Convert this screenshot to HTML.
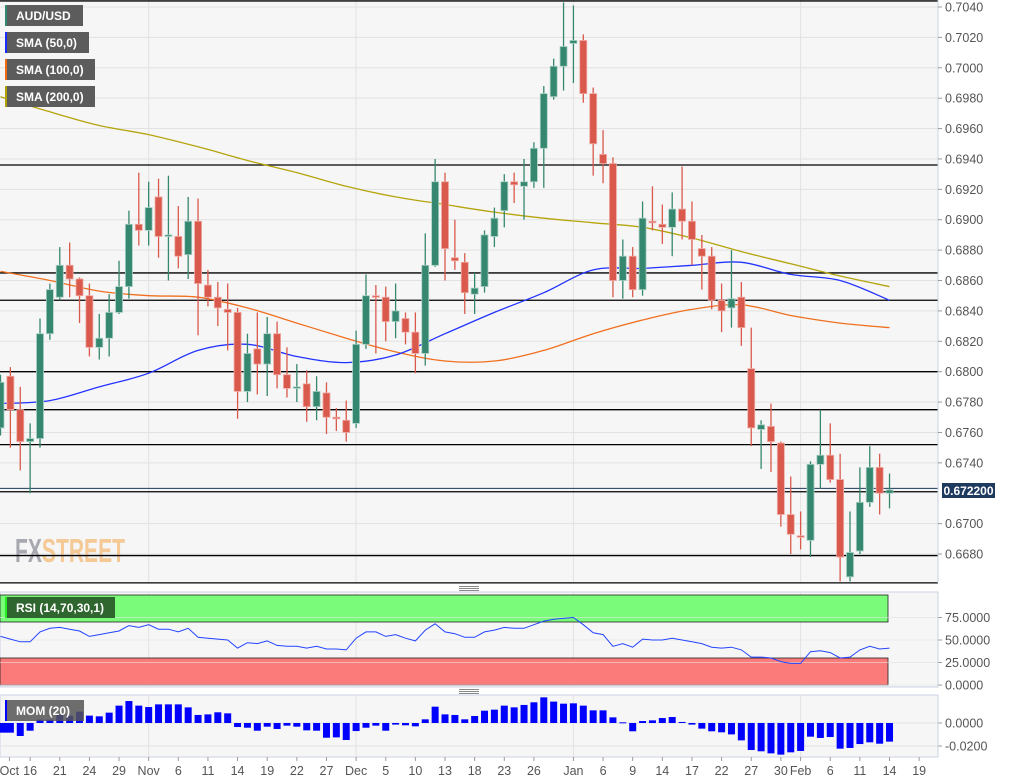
<!DOCTYPE html>
<html><head><meta charset="utf-8">
<style>
html,body{margin:0;padding:0;background:#fff;width:1015px;height:782px;overflow:hidden;font-family:"Liberation Sans",sans-serif;}
svg text{font-family:"Liberation Sans",sans-serif;}
</style></head>
<body>
<svg id="chart" width="1015" height="782" xmlns="http://www.w3.org/2000/svg">
  <rect x="0" y="0" width="938" height="583" fill="#f6f6f6"/>
  <g id="grid"></g>
  <text x="15" y="562" font-size="33" font-weight="bold" fill="#9a9ba3" fill-opacity="0.85" textLength="110" lengthAdjust="spacingAndGlyphs">FX<tspan fill="#f3c184">STREET</tspan></text>
  <g id="hlines"></g>
  <g id="smas"></g>
  <g id="candles"></g>
  <line x1="938" y1="0" x2="938" y2="583" stroke="#c9d0e0"/>
  <g id="paxis"></g>
  <rect x="942" y="483" width="53" height="15" fill="#1f3a5f"/>
  <text x="968.5" y="495" font-size="12" font-weight="bold" fill="#fff" text-anchor="middle">0.672200</text>

  <g>
    <rect x="5" y="5" width="78" height="21" fill="#5c5c5c"/><rect x="5" y="5" width="2" height="21" fill="#35876f"/>
    <text x="16" y="20" font-size="12" font-weight="bold" fill="#fff">AUD/USD</text>
    <rect x="5" y="32" width="84" height="21" fill="#5c5c5c"/><rect x="5" y="32" width="2" height="21" fill="#1a2cff"/>
    <text x="16" y="47" font-size="12" font-weight="bold" fill="#fff">SMA (50,0)</text>
    <rect x="5" y="59" width="90" height="21" fill="#5c5c5c"/><rect x="5" y="59" width="2" height="21" fill="#f06a12"/>
    <text x="16" y="74" font-size="12" font-weight="bold" fill="#fff">SMA (100,0)</text>
    <rect x="5" y="86" width="90" height="21" fill="#5c5c5c"/><rect x="5" y="86" width="2" height="21" fill="#b0a000"/>
    <text x="16" y="101" font-size="12" font-weight="bold" fill="#fff">SMA (200,0)</text>
  </g>

  <g><rect x="459" y="586" width="20" height="1" fill="#888"/><rect x="459" y="588" width="20" height="1" fill="#888"/><rect x="459" y="590" width="20" height="1" fill="#888"/></g>
  <rect x="0" y="592" width="938" height="95" fill="#f6f6f6" stroke="#ccd3e3"/>
  <g id="rsig"></g>
  <g id="rsi"></g>
  <rect x="5" y="597" width="110" height="21" fill="#2f662f"/><rect x="5" y="597" width="2" height="21" fill="#22ee22"/>
  <text x="16" y="612" font-size="12" font-weight="bold" fill="#fff">RSI (14,70,30,1)</text>

  <g><rect x="459" y="689" width="20" height="1" fill="#888"/><rect x="459" y="691" width="20" height="1" fill="#888"/><rect x="459" y="693" width="20" height="1" fill="#888"/></g>
  <rect x="0" y="695" width="938" height="62" fill="#f6f6f6" stroke="#ccd3e3"/>
  <g id="momg"></g>
  <g id="mom"></g>
  <rect x="5" y="700" width="79" height="21" fill="#555" fill-opacity="0.85"/><rect x="5" y="700" width="2" height="21" fill="#0000ff"/>
  <text x="16" y="715" font-size="12" font-weight="bold" fill="#fff">MOM (20)</text>
  <g id="xaxis"></g>
</svg>
<script>
const opens=[0.6763,0.6797,0.6775,0.6754,0.6756,0.6825,0.6849,0.6870,0.6861,0.6850,0.6816,0.6822,0.6839,0.6856,0.6897,0.6893,0.6915,0.6889,0.6889,0.6877,0.6899,0.6857,0.6849,0.6841,0.6839,0.6787,0.6815,0.6805,0.6825,0.6798,0.6789,0.6792,0.6777,0.6786,0.6770,0.6768,0.6766,0.6818,0.6850,0.6849,0.6833,0.6835,0.6826,0.6812,0.6870,0.6925,0.6875,0.6872,0.6851,0.6856,0.6889,0.6906,0.6925,0.6922,0.6925,0.6947,0.6981,0.7001,0.7016,0.7018,0.6983,0.6943,0.6937,0.6860,0.6876,0.6854,0.6899,0.6897,0.6895,0.6907,0.6899,0.6881,0.6876,0.6847,0.6842,0.6849,0.6802,0.6762,0.6764,0.6753,0.6706,0.6692,0.6689,0.6739,0.6745,0.6729,0.6665,0.6682,0.6714,0.6737,0.6720];
const highs=[0.6798,0.6803,0.6790,0.6766,0.6835,0.6858,0.6882,0.6885,0.6862,0.6858,0.6838,0.6851,0.6873,0.6906,0.6931,0.6925,0.6927,0.6929,0.6909,0.6915,0.6914,0.6867,0.6859,0.6858,0.6842,0.6825,0.6839,0.6836,0.6833,0.6816,0.6805,0.6801,0.6797,0.6793,0.6776,0.6781,0.6827,0.6864,0.6857,0.6856,0.6858,0.6839,0.6839,0.6891,0.6940,0.6931,0.6900,0.6878,0.6865,0.6893,0.6908,0.6930,0.6931,0.6940,0.6951,0.6988,0.7006,0.7043,0.7041,0.7022,0.6987,0.6959,0.6941,0.6887,0.6882,0.6912,0.6922,0.6910,0.6918,0.6935,0.6912,0.6890,0.6882,0.6858,0.6880,0.6859,0.6829,0.6768,0.6779,0.6754,0.6731,0.6708,0.6741,0.6775,0.6766,0.6746,0.6708,0.6737,0.6751,0.6746,0.6733];
const lows=[0.6758,0.6750,0.6735,0.6720,0.6750,0.6821,0.6847,0.6849,0.6832,0.6810,0.6808,0.6810,0.6838,0.6848,0.6883,0.6883,0.6875,0.6860,0.6868,0.6861,0.6824,0.6843,0.6830,0.6814,0.6769,0.6780,0.6785,0.6784,0.6789,0.6783,0.6780,0.6767,0.6768,0.6759,0.6761,0.6754,0.6763,0.6815,0.6812,0.6820,0.6822,0.6818,0.6799,0.6804,0.6869,0.6860,0.6867,0.6838,0.6838,0.6852,0.6882,0.6895,0.6911,0.6900,0.6921,0.6921,0.6979,0.6985,0.6990,0.6977,0.6929,0.6924,0.6849,0.6848,0.6849,0.6850,0.6893,0.6884,0.6876,0.6887,0.6870,0.6854,0.6841,0.6826,0.6829,0.6817,0.6751,0.6736,0.6734,0.6698,0.6680,0.6683,0.6678,0.6723,0.6727,0.6662,0.6662,0.6680,0.6711,0.6706,0.6710];
const closes=[0.6793,0.6775,0.6754,0.6756,0.6825,0.6854,0.6870,0.6861,0.6850,0.6816,0.6822,0.6839,0.6856,0.6897,0.6893,0.6908,0.6889,0.6890,0.6876,0.6899,0.6858,0.6849,0.6842,0.6839,0.6787,0.6812,0.6805,0.6825,0.6798,0.6789,0.6790,0.6777,0.6787,0.6770,0.6769,0.6760,0.6818,0.6850,0.6849,0.6833,0.6840,0.6826,0.6812,0.6870,0.6925,0.6881,0.6873,0.6852,0.6855,0.6890,0.6901,0.6925,0.6923,0.6925,0.6947,0.6983,0.7001,0.7014,0.7018,0.6983,0.6950,0.6937,0.6860,0.6876,0.6854,0.6901,0.6898,0.6895,0.6907,0.6899,0.6887,0.6876,0.6847,0.6840,0.6848,0.6829,0.6763,0.6765,0.6754,0.6706,0.6693,0.6691,0.6739,0.6745,0.6729,0.6678,0.6681,0.6714,0.6737,0.6720,0.67222];
const smaIdx=[0,5,10,15,20,25,30,35,40,45,50,55,60,65,70,75,80,85,90];
const sma50=[0.6779,0.6781,0.6790,0.6799,0.6814,0.6818,0.6810,0.6806,0.6811,0.6825,0.6839,0.6852,0.6867,0.6868,0.6870,0.6872,0.6864,0.6860,0.6847];
const sma100=[0.6866,0.6860,0.6853,0.6850,0.6849,0.6842,0.6832,0.6822,0.6813,0.6807,0.6807,0.6814,0.6825,0.6834,0.6841,0.6844,0.6837,0.6832,0.6829];
const sma200=[0.6981,0.6971,0.6962,0.6956,0.6948,0.6939,0.6931,0.6922,0.6915,0.6910,0.6905,0.6901,0.6898,0.6895,0.6888,0.6879,0.6871,0.6863,0.6856];
const levels=[0.6936,0.6865,0.6847,0.6800,0.6775,0.6752,0.6721,0.6679,0.6661,0.7044];
const rsiVals=[54,51,48,48,59,63,64,62,60,54,56,58,60,66,64,67,62,62,59,63,53,52,51,50,41,47,46,49,44,43,43,41,43,40,40,39,52,59,59,54,56,52,49,61,68,59,57,53,53,59,61,64,63,63,67,71,73,74,75,67,58,56,43,46,42,51,50,50,52,50,48,46,42,41,42,39,31,31,30,26,24,24,37,38,36,30,31,39,43,40,41];
const momVals=[-0.0084,-0.0084,-0.0113,-0.0067,0.0029,0.0029,0.0070,0.0064,0.0099,0.0064,0.0058,0.0090,0.0151,0.0191,0.0151,0.0139,0.0162,0.0162,0.0162,0.0136,0.0070,0.0075,0.0093,0.0084,-0.0035,-0.0041,-0.0067,-0.0032,-0.0052,-0.0023,-0.0032,-0.0064,-0.0067,-0.0128,-0.0125,-0.0148,-0.0070,-0.0041,-0.0023,-0.0067,-0.0014,-0.0020,-0.0029,0.0032,0.0142,0.0075,0.0070,0.0032,0.0061,0.0107,0.0116,0.0151,0.0136,0.0157,0.0180,0.0223,0.0186,0.0168,0.0171,0.0151,0.0110,0.0110,0.0049,0.0006,-0.0072,0.0017,0.0023,0.0043,0.0052,0.0009,-0.0014,-0.0049,-0.0072,-0.0081,-0.0099,-0.0151,-0.0235,-0.0246,-0.0264,-0.0275,-0.0255,-0.0243,-0.0119,-0.0130,-0.0122,-0.0223,-0.0217,-0.0183,-0.0168,-0.0180,-0.0162];
const priceTicks=[0.7040,0.7020,0.7000,0.6980,0.6960,0.6940,0.6920,0.6900,0.6880,0.6860,0.6840,0.6820,0.6800,0.6780,0.6760,0.6740,0.6700,0.6680];
const rsiTicks=[75,50,25,0];
const momTicks=[0,-0.02];
const xLabels=["Oct","16","21","24","29","Nov","6","11","14","19","22","27","Dec","5","10","13","18","23","26","Jan","6","9","14","17","22","27","30","Feb","6","11","14","19"];
const xLabelIdx=[0.9,3,6,9,12,15,18,21,24,27,30,33,36,39,42,45,48,51,54,58,61,64,67,70,73,76,79,81,84,87,90,93];
const monthIdx=[15,36,58,81];

const NS="http://www.w3.org/2000/svg";
const X=i=>0.5+i*9.878;
const Y=p=>7+(0.7040-p)/0.0020*30.39;
const RY=v=>685-v*0.9;
const MY=v=>723-v/0.02*23;
function mk(tag,attrs,parent){const e=document.createElementNS(NS,tag);for(const k in attrs)e.setAttribute(k,attrs[k]);document.getElementById(parent).appendChild(e);return e;}
function smooth(pts){let d='M'+pts[0][0].toFixed(1)+','+pts[0][1].toFixed(1);
for(let k=0;k<pts.length-1;k++){const p0=pts[Math.max(0,k-1)],p1=pts[k],p2=pts[k+1],p3=pts[Math.min(pts.length-1,k+2)];
const c1=[p1[0]+(p2[0]-p0[0])/6,p1[1]+(p2[1]-p0[1])/6],c2=[p2[0]-(p3[0]-p1[0])/6,p2[1]-(p3[1]-p1[1])/6];
d+=' C'+c1[0].toFixed(1)+','+c1[1].toFixed(1)+' '+c2[0].toFixed(1)+','+c2[1].toFixed(1)+' '+p2[0].toFixed(1)+','+p2[1].toFixed(1);}
return d;}

priceTicks.forEach(p=>{const l=mk('line',{x1:0,x2:938,y1:Y(p),y2:Y(p),stroke:'#e2e2e2'},'grid');

});
monthIdx.forEach(i=>{['grid','rsig','momg'].forEach(g=>{const yy=g==='grid'?[0,583]:g==='rsig'?[592,687]:[695,757];
const l=mk('line',{x1:X(i),x2:X(i),y1:yy[0],y2:yy[1],stroke:'#e2e2e2'},g);

});});
priceTicks.forEach(p=>{mk('line',{x1:938,x2:942,y1:Y(p),y2:Y(p),stroke:'#999'},'paxis');
const t=mk('text',{x:945,y:Y(p)+4.5,'font-size':12.5,fill:'#555'},'paxis');t.textContent=p.toFixed(4);

});
levels.forEach(p=>{const l=mk('line',{x1:0,x2:938,y1:Y(p),y2:Y(p),stroke:'#000','stroke-width':1.3},'hlines');

});
{const l=mk('line',{x1:0,x2:938,y1:Y(0.67222)-1.5,y2:Y(0.67222)-1.5,stroke:'#1f3a5f','stroke-width':1},'hlines');

}
[[sma200,'#b5a40c','sma200-line'],[sma100,'#f07020','sma100-line'],[sma50,'#2233ff','sma50-line']].forEach(([arr,c,n])=>{
const pts=arr.map((v,k)=>[X(smaIdx[k]),Y(v)]);
const p=mk('path',{d:smooth(pts),fill:'none',stroke:c,'stroke-width':1.3},'smas');

});
opens.forEach((o,i)=>{const c=closes[i];const up=c>=o;const col=up?'#35876f':'#d9594c';
const g=mk('g',{},'candles');


const w=document.createElementNS(NS,'line');w.setAttribute('x1',X(i));w.setAttribute('x2',X(i));w.setAttribute('y1',Y(highs[i]));w.setAttribute('y2',Y(lows[i]));w.setAttribute('stroke',col);w.setAttribute('stroke-width',1.3);g.appendChild(w);
const top=Y(Math.max(o,c)),bot=Y(Math.min(o,c));
const r=document.createElementNS(NS,'rect');r.setAttribute('x',X(i)-3.5);r.setAttribute('y',top);r.setAttribute('width',7);r.setAttribute('height',Math.max(1.5,bot-top));r.setAttribute('fill',col);r.setAttribute('stroke',up?'#a8cfc3':'#f0aaa3');r.setAttribute('stroke-width',0.8);g.appendChild(r);});
{const a=mk('rect',{x:0,y:595,width:888,height:RY(70)-595,fill:'#7afc7a',stroke:'#222','stroke-width':0.8},'rsig');


const b=mk('rect',{x:0,y:RY(30),width:888,height:685-RY(30),fill:'#fb7b7b',stroke:'#222','stroke-width':0.8},'rsig');

}
rsiTicks.forEach(v=>{mk('line',{x1:0,x2:938,y1:RY(v),y2:RY(v),stroke:'#e2e2e2','stroke-opacity':0.6},'rsig');
mk('line',{x1:938,x2:942,y1:RY(v),y2:RY(v),stroke:'#999'},'rsig');
const t=mk('text',{x:945,y:RY(v)+4.5,'font-size':12.5,fill:'#555'},'rsig');t.textContent=v.toFixed(4);

});
mk('line',{x1:938,x2:938,y1:592,y2:687,stroke:'#c9d0e0'},'rsig');
{const d=rsiVals.map((v,i)=>(i?'L':'M')+X(i).toFixed(1)+','+RY(v).toFixed(1)).join(' ');
const p=mk('path',{d:d,fill:'none',stroke:'#2244ff','stroke-width':1},'rsi');

}
momTicks.forEach(v=>{mk('line',{x1:0,x2:938,y1:MY(v),y2:MY(v),stroke:'#e2e2e2'},'momg');
mk('line',{x1:938,x2:942,y1:MY(v),y2:MY(v),stroke:'#999'},'momg');
const t=mk('text',{x:945,y:MY(v)+4.5,'font-size':12.5,fill:'#555'},'momg');t.textContent=v.toFixed(4);

});
mk('line',{x1:938,x2:938,y1:695,y2:757,stroke:'#c9d0e0'},'momg');
momVals.forEach((v,i)=>{const y0=MY(0),y1=MY(v);
const r=mk('rect',{x:Math.max(0,X(i)-3.5),y:Math.min(y0,y1),width:7,height:Math.max(1,Math.abs(y1-y0)),fill:'#0000ff'},'mom');

});
xLabels.forEach((s,k)=>{const x=X(xLabelIdx[k]);
mk('line',{x1:x,x2:x,y1:757,y2:761,stroke:'#999'},'xaxis');
const t=mk('text',{x:x,y:775,'font-size':12.5,fill:'#555','text-anchor':'middle'},'xaxis');t.textContent=s;

});
</script>
</body></html>
